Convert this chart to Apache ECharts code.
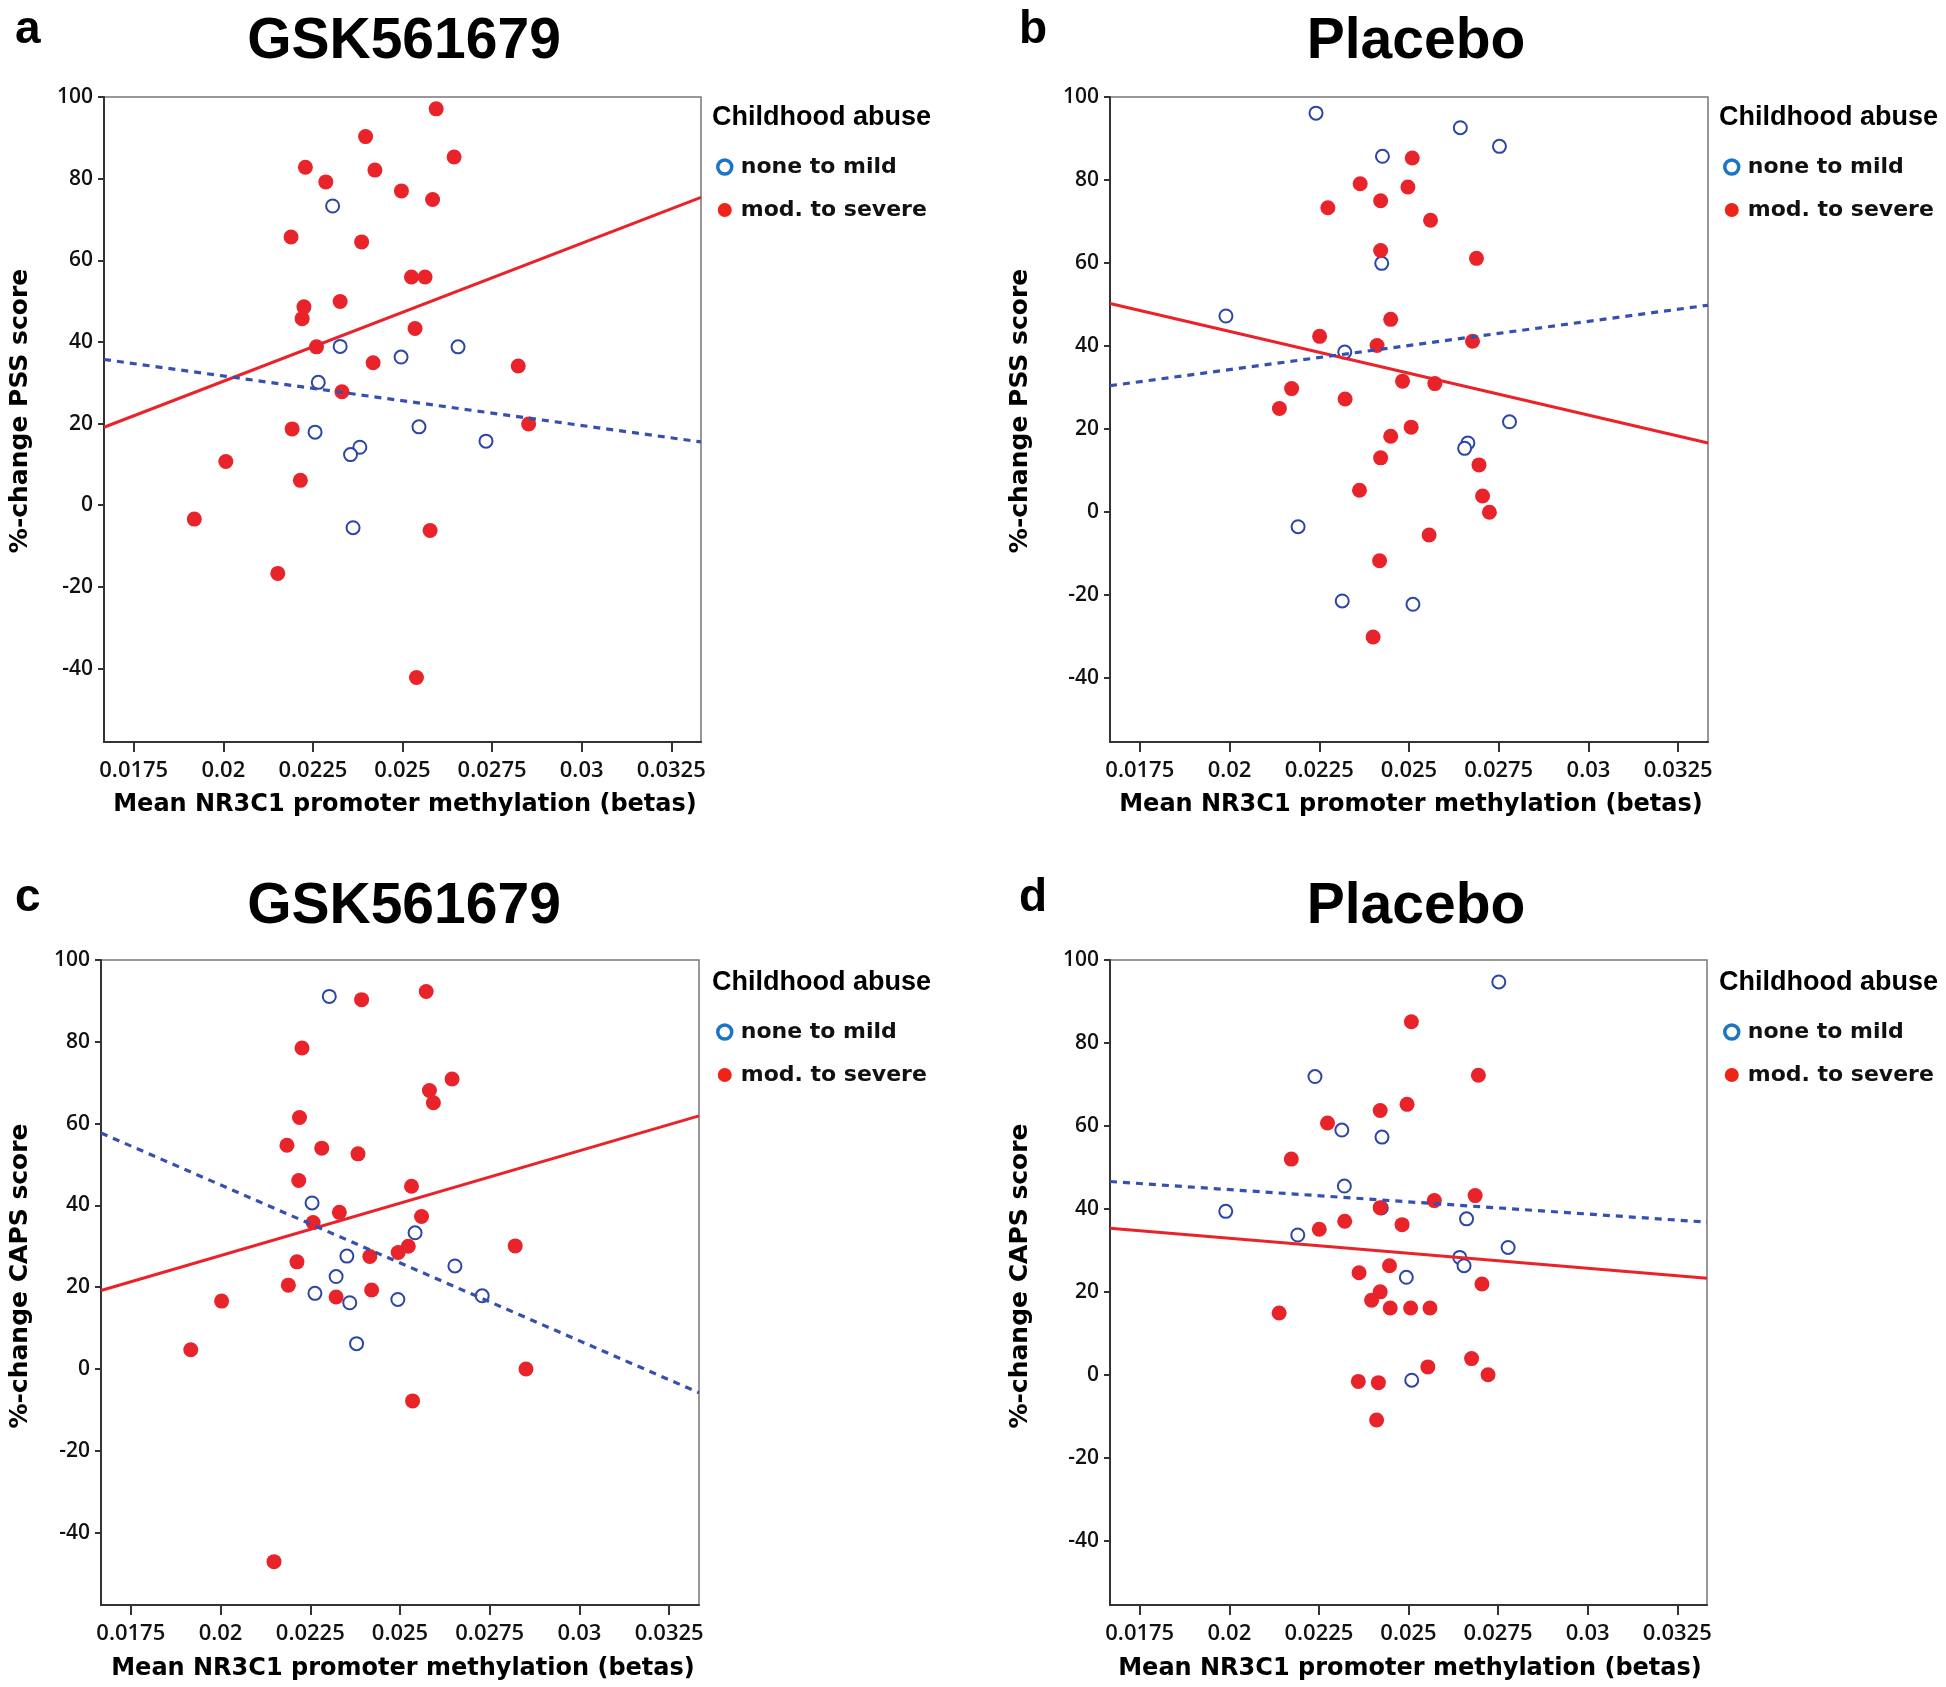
<!DOCTYPE html>
<html><head><meta charset="utf-8">
<script src="https://cdn.jsdelivr.net/npm/echarts@6/dist/echarts.min.js"></script>
<style>html,body{margin:0;padding:0;background:#fff}#c{width:1946px;height:1687px}</style>
</head><body><div id="c"></div>
<script>
// ---- tick labels / axis ranges ----
const xTicks = [0.0175, 0.02, 0.0225, 0.025, 0.0275, 0.03, 0.0325];
const xTickLabels = ['0.0175', '0.02', '0.0225', '0.025', '0.0275', '0.03', '0.0325'];
const yTicks = [-40, -20, 0, 20, 40, 60, 80, 100];
const xRange = [0.01667, 0.03333];
const yMins = [-58, -55.5, -57.7, -55.5];
const panelTitles = ['GSK561679', 'Placebo', 'GSK561679', 'Placebo'];
const panelLetters = ['a', 'b', 'c', 'd'];
const yTitles = ['%-change PSS score', '%-change PSS score', '%-change CAPS score', '%-change CAPS score'];
const xTitle = 'Mean NR3C1 promoter methylation (betas)';
const legendTitle = 'Childhood abuse';
const groupNames = ['none to mild', 'mod. to severe'];

// ---- data: panel a (GSK561679, PSS) ----
const aMild = [[0.02305,73.3],[0.02326,38.9],[0.02655,38.8],[0.02496,36.3],[0.02265,30.1],[0.02546,19.2],[0.02256,17.9],[0.02733,15.7],[0.02381,14.2],[0.02355,12.4],[0.02362,-5.5]];
const aSevere = [[0.02594,97.1],[0.02397,90.3],[0.02644,85.3],[0.02229,82.8],[0.02423,82.1],[0.02286,79.2],[0.02497,77.0],[0.02584,74.9],[0.02189,65.7],[0.02386,64.5],[0.02525,55.9],[0.02563,55.9],[0.02326,49.9],[0.02225,48.6],[0.02220,45.7],[0.02535,43.3],[0.02260,38.8],[0.02418,34.9],[0.02823,34.1],[0.02331,27.8],[0.02192,18.7],[0.02852,19.9],[0.02007,10.7],[0.02215,6.1],[0.01919,-3.4],[0.02577,-6.2],[0.02152,-16.7],[0.02539,-42.2]];
const aMildFit = [35.7, 15.5];
const aSevereFit = [19.1, 75.4];

// ---- data: panel b (Placebo, PSS) ----
const bMild = [[0.02241,96.1],[0.02643,92.6],[0.02752,88.1],[0.02426,85.7],[0.02424,59.9],[0.01990,47.2],[0.02321,38.5],[0.02780,21.7],[0.02664,16.6],[0.02655,15.3],[0.02191,-3.6],[0.02314,-21.5],[0.02511,-22.3]];
const bSevere = [[0.02509,85.3],[0.02364,79.1],[0.02497,78.3],[0.02421,75.0],[0.02274,73.3],[0.02560,70.3],[0.02421,63.0],[0.02688,61.1],[0.02449,46.4],[0.02251,42.3],[0.02411,40.1],[0.02677,41.1],[0.02482,31.5],[0.02572,30.9],[0.02173,29.7],[0.02322,27.2],[0.02139,24.9],[0.02506,20.4],[0.02449,18.2],[0.02421,13.0],[0.02695,11.3],[0.02362,5.2],[0.02705,3.8],[0.02724,-0.1],[0.02556,-5.6],[0.02418,-11.8],[0.02400,-30.2]];
const bMildFit = [30.4, 49.8];
const bSevereFit = [50.2, 16.6];

// ---- data: panel c (GSK561679, CAPS) ----
const cMild = [[0.02303,91.1],[0.02255,40.6],[0.02542,33.3],[0.02352,27.6],[0.02653,25.2],[0.02322,22.6],[0.02263,18.5],[0.02729,17.9],[0.02494,17.0],[0.02360,16.2],[0.02379,6.2]];
const cSevere = [[0.02573,92.3],[0.02393,90.3],[0.02227,78.5],[0.02645,70.9],[0.02582,68.1],[0.02593,65.1],[0.02220,61.5],[0.02185,54.7],[0.02282,54.0],[0.02383,52.6],[0.02218,46.1],[0.02532,44.7],[0.02331,38.3],[0.02560,37.3],[0.02258,35.8],[0.02821,30.1],[0.02523,30.0],[0.02495,28.5],[0.02416,27.5],[0.02213,26.2],[0.02189,20.5],[0.02421,19.3],[0.02322,17.6],[0.02003,16.6],[0.01917,4.7],[0.02851,0.0],[0.02535,-7.8],[0.02149,-47.1]];
const cMildFit = [57.7, -5.8];
const cSevereFit = [19.2, 61.9];

// ---- data: panel d (Placebo, CAPS) ----
const dMild = [[0.02752,94.7],[0.02239,71.9],[0.02314,59.0],[0.02426,57.3],[0.02321,45.5],[0.02424,40.2],[0.01990,39.4],[0.02662,37.6],[0.02191,33.7],[0.02778,30.7],[0.02643,28.3],[0.02655,26.3],[0.02494,23.5],[0.02509,-1.3]];
const dSevere = [[0.02508,85.1],[0.02695,72.2],[0.02496,65.2],[0.02421,63.7],[0.02274,60.7],[0.02173,52.0],[0.02572,42.0],[0.02686,43.2],[0.02421,40.3],[0.02322,37.0],[0.02482,36.2],[0.02251,35.1],[0.02447,26.3],[0.02362,24.6],[0.02705,21.9],[0.02421,20.0],[0.02397,18.0],[0.02449,16.1],[0.02506,16.1],[0.02560,16.1],[0.02139,14.9],[0.02676,3.9],[0.02554,1.9],[0.02722,0.0],[0.02360,-1.6],[0.02416,-1.9],[0.02411,-10.9]];
const dMildFit = [46.6, 36.8];
const dSevereFit = [35.3, 23.3];

// ---- assemble ----
const panels = [
  {mild: aMild, severe: aSevere, mildFit: aMildFit, severeFit: aSevereFit},
  {mild: bMild, severe: bSevere, mildFit: bMildFit, severeFit: bSevereFit},
  {mild: cMild, severe: cSevere, mildFit: cMildFit, severeFit: cSevereFit},
  {mild: dMild, severe: dSevere, mildFit: dMildFit, severeFit: dSevereFit}
];

// layout (pixels)
const grids = [
  {left: 104, top: 97, width: 597, height: 645},
  {left: 1110, top: 97, width: 598, height: 645},
  {left: 101, top: 960, width: 598, height: 645},
  {left: 1110, top: 960, width: 597, height: 645}
];
const titlePos = [[404, 42], [1416, 42], [404, 907], [1416, 907]];
const letterPos = [[15, 30], [1019, 30], [15, 898], [1019, 898]];
const yTitlePos = [[20, 411], [1020, 411], [20, 1276], [1020, 1276]];
const xTitlePos = [[405, 805], [1411, 805], [403, 1669], [1410, 1669]];
const legTitlePos = [[712, 118], [1719, 118], [712, 983], [1719, 983]];
const legTop = [147, 147, 1012, 1012];
const legLeft = [711, 1718, 711, 1718];

const RED = '#e9232a';
const BLUE = '#2d45a6';
const BLUE_LINE = '#3550b0';
const LEG_BLUE = '#1b74c5';
const LEG_RED = '#ee2419';

const option = {
  backgroundColor: '#fff',
  animation: false,
  grid: grids.map(g => Object.assign({show: true, borderColor: '#777', borderWidth: 1.5, backgroundColor: 'transparent'}, g)),
  xAxis: grids.map((g, i) => ({
    gridIndex: i, type: 'value', min: xRange[0], max: xRange[1],
    axisLine: {show: true, onZero: false, lineStyle: {color: '#333', width: 2}},
    axisTick: {show: true, customValues: xTicks, length: 10, lineStyle: {color: '#333', width: 2}},
    axisLabel: {
      customValues: xTicks, margin: 18,
      fontFamily: 'Open Sans', fontWeight: 600, fontSize: 22, color: '#111',
      formatter: v => { const k = xTicks.findIndex(t => Math.abs(t - v) < 1e-7); return k >= 0 ? xTickLabels[k] : ''; }
    },
    splitLine: {show: false}
  })),
  yAxis: grids.map((g, i) => ({
    gridIndex: i, type: 'value', min: yMins[i], max: 100,
    axisLine: {show: true, onZero: false, lineStyle: {color: '#333', width: 2}},
    axisTick: {show: true, customValues: yTicks, length: 6, lineStyle: {color: '#333', width: 2}},
    axisLabel: {customValues: yTicks, margin: 11, fontFamily: 'Open Sans', fontWeight: 600, fontSize: 21, color: '#111'},
    splitLine: {show: false}
  })),
  legend: grids.map((g, i) => ({
    orient: 'vertical', left: legLeft[i], top: legTop[i],
    itemWidth: 14, itemHeight: 14, itemGap: 13,
    selectedMode: false,
    textStyle: {fontFamily: 'DejaVu Sans', fontWeight: 'bold', fontSize: 22, color: '#111', lineHeight: 30, padding: [0, 0, 0, 4]},
    data: [
      {name: groupNames[0], icon: 'circle', itemStyle: {color: '#fff', borderColor: LEG_BLUE, borderWidth: 3.5, opacity: 1}},
      {name: groupNames[1], icon: 'circle', itemStyle: {color: LEG_RED, borderWidth: 0, opacity: 1}}
    ]
  })),
  series: [],
  graphic: []
};

panels.forEach((p, i) => {
  option.series.push({
    name: groupNames[0], type: 'scatter', xAxisIndex: i, yAxisIndex: i,
    symbol: 'emptyCircle', symbolSize: 13,
    itemStyle: {color: BLUE, borderColor: BLUE, borderWidth: 2.8, opacity: 1},
    data: p.mild
  });
  option.series.push({
    name: groupNames[1], type: 'scatter', xAxisIndex: i, yAxisIndex: i,
    symbol: 'circle', symbolSize: 15,
    itemStyle: {color: RED, opacity: 1},
    data: p.severe
  });
  option.series.push({
    name: 'fit ' + groupNames[1], type: 'line', xAxisIndex: i, yAxisIndex: i,
    symbol: 'none', silent: true,
    lineStyle: {color: RED, width: 3},
    data: [[xRange[0], p.severeFit[0]], [xRange[1], p.severeFit[1]]]
  });
  option.series.push({
    name: 'fit ' + groupNames[0], type: 'line', xAxisIndex: i, yAxisIndex: i,
    symbol: 'none', silent: true,
    lineStyle: {color: BLUE_LINE, width: 3.2, type: [7, 6]},
    data: [[xRange[0], p.mildFit[0]], [xRange[1], p.mildFit[1]]]
  });

  const txt = (x, y, text, font, align, extra) => Object.assign({
    type: 'text', x: x, y: y,
    style: {text: text, font: font, fill: '#000', align: align, textAlign: align, verticalAlign: 'middle', textVerticalAlign: 'middle'}
  }, extra || {});

  option.graphic.push(txt(titlePos[i][0], titlePos[i][1], panelTitles[i], 'bold 57px "Liberation Sans", Arial, sans-serif', 'center'));
  option.graphic.push(txt(letterPos[i][0], letterPos[i][1], panelLetters[i], 'bold 46px "Liberation Sans", Arial, sans-serif', 'left'));
  option.graphic.push(txt(yTitlePos[i][0], yTitlePos[i][1], yTitles[i], 'bold 25px "DejaVu Sans", sans-serif', 'center', {rotation: Math.PI / 2}));
  option.graphic.push(txt(xTitlePos[i][0], xTitlePos[i][1], xTitle, 'bold 24px "DejaVu Sans", sans-serif', 'center'));
  option.graphic.push(txt(legTitlePos[i][0], legTitlePos[i][1], legendTitle, 'bold 27px "Liberation Sans", Arial, sans-serif', 'left'));
});

const chart = echarts.init(document.getElementById('c'), null, {renderer: 'canvas'});
chart.setOption(option);
</script>
</body></html>
